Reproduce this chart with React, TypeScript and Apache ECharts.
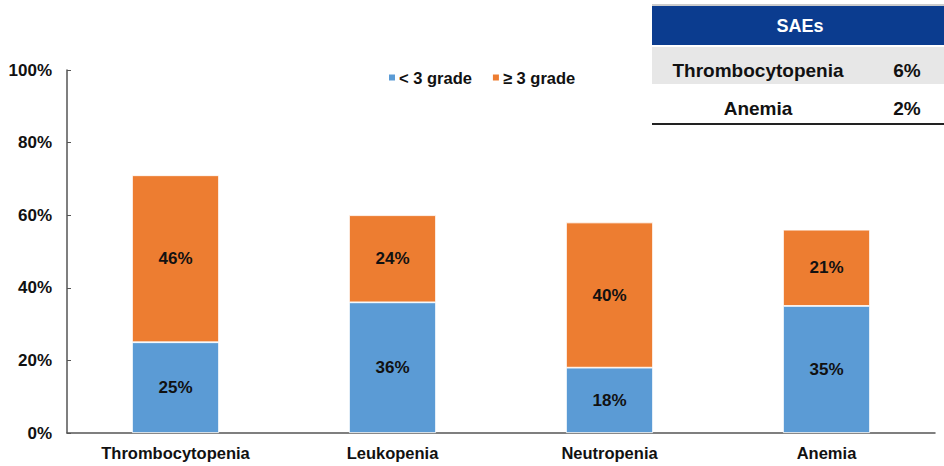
import React, { useEffect, useRef } from "react";
import * as echarts from "echarts";

const categories = ["Thrombocytopenia", "Leukopenia", "Neutropenia", "Anemia"];
const lowGrade = [25, 36, 18, 35];
const highGrade = [46, 24, 40, 21];
const seriesNames = ["< 3 grade", "≥ 3 grade"];
const tableRows = [
  ["Thrombocytopenia", "6%"],
  ["Anemia", "2%"],
];
const tableTitle = "SAEs";

const FONT = "'Liberation Sans', Arial, sans-serif";

export default function App() {
  const ref = useRef<HTMLDivElement>(null);
  useEffect(() => {
    const chart = echarts.init(ref.current!, null, { renderer: "svg" });
    const labelStyle = {
      show: true,
      position: "inside",
      formatter: "{c}%",
      color: "#111",
      fontWeight: "bold",
      fontSize: 17,
      fontFamily: FONT,
    };
    chart.setOption({
      animation: false,
      backgroundColor: "#fff",
      textStyle: { fontFamily: FONT },
      grid: { left: 67, right: 9, top: 70, bottom: 33, containLabel: false },
      legend: {
        data: seriesNames,
        left: 382,
        top: 64,
        icon: "rect",
        itemWidth: 8,
        itemHeight: 8,
        itemGap: 19,
        textStyle: { fontSize: 16.5, fontWeight: "bold", color: "#111", fontFamily: FONT, padding: [0, 0, 0, -2] },
      },
      xAxis: {
        type: "category",
        data: categories,
        axisLine: { lineStyle: { color: "#555", width: 1.5 } },
        axisTick: { show: false },
        axisLabel: { fontSize: 16.5, fontWeight: "bold", color: "#111", fontFamily: FONT, margin: 11 },
      },
      yAxis: {
        type: "value",
        min: 0,
        max: 100,
        interval: 20,
        axisLine: { show: true, lineStyle: { color: "#555", width: 1.5 } },
        axisTick: { show: true, inside: true, length: 4, lineStyle: { color: "#555" } },
        splitLine: { show: false },
        axisLabel: { formatter: "{value}%", fontSize: 17, fontWeight: "bold", color: "#111", fontFamily: FONT, margin: 15 },
      },
      series: [
        {
          name: seriesNames[0],
          type: "bar",
          stack: "total",
          data: lowGrade,
          barWidth: 87,
          itemStyle: { color: "#5B9BD5", borderColor: "#fff", borderWidth: 0.8 },
          label: labelStyle,
        },
        {
          name: seriesNames[1],
          type: "bar",
          stack: "total",
          data: highGrade,
          barWidth: 87,
          itemStyle: { color: "#ED7D31", borderColor: "#fff", borderWidth: 0.8 },
          label: labelStyle,
        },
      ],
      graphic: [
        { type: "line", shape: { x1: 652, y1: 5, x2: 944, y2: 5 }, style: { stroke: "#999", lineWidth: 1 } },
        { type: "rect", shape: { x: 652, y: 6, width: 292, height: 39 }, style: { fill: "#0B3C8F" } },
        { type: "text", x: 800, y: 26, style: { text: tableTitle, fill: "#fff", font: `bold 18px ${FONT}`, align: "center", verticalAlign: "middle" } },
        { type: "rect", shape: { x: 652, y: 47, width: 292, height: 37 }, style: { fill: "#E7E7E7" } },
        { type: "text", x: 758, y: 70, style: { text: tableRows[0][0], fill: "#111", font: `bold 19px ${FONT}`, align: "center", verticalAlign: "middle" } },
        { type: "text", x: 907, y: 70, style: { text: tableRows[0][1], fill: "#111", font: `bold 19px ${FONT}`, align: "center", verticalAlign: "middle" } },
        { type: "text", x: 758, y: 108, style: { text: tableRows[1][0], fill: "#111", font: `bold 19px ${FONT}`, align: "center", verticalAlign: "middle" } },
        { type: "text", x: 907, y: 108, style: { text: tableRows[1][1], fill: "#111", font: `bold 19px ${FONT}`, align: "center", verticalAlign: "middle" } },
        { type: "line", shape: { x1: 652, y1: 124, x2: 944, y2: 124 }, style: { stroke: "#222", lineWidth: 2 } },
      ],
    });
    return () => chart.dispose();
  }, []);
  return <div ref={ref} style={{ width: 944, height: 466, position: "absolute", left: 0, top: 0 }} />;
}
